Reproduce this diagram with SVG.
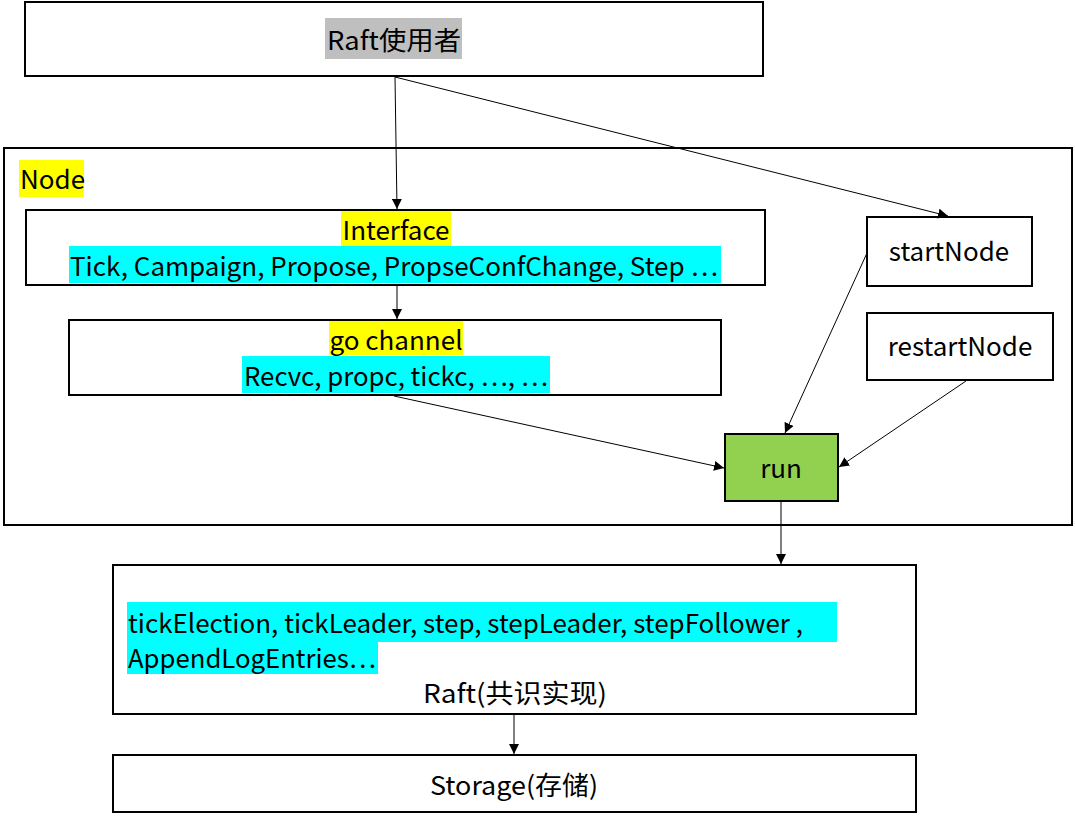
<svg xmlns="http://www.w3.org/2000/svg" width="1075" height="820" viewBox="0 0 1075 820">
<defs>
<marker id="ah" viewBox="0 0 10 10" refX="10" refY="5" markerWidth="10" markerHeight="10" markerUnits="userSpaceOnUse" orient="auto">
<path d="M0,0 L10,5 L0,10 Z" fill="#000"/>
</marker>
</defs>
<style>
.box{fill:#fff;stroke:#000;stroke-width:2}
.run{fill:#92d050;stroke:#000;stroke-width:2}
.t{font-family:"Noto Sans CJK SC","Noto Sans",sans-serif;font-size:26px;fill:#000}
.c{text-anchor:middle}
.hy{fill:#ffff00}
.hc{fill:#00ffff}
.hg{fill:#bfbfbf}
.ln{stroke:#000;stroke-width:1;fill:none;marker-end:url(#ah)}
</style>
<rect width="1075" height="820" fill="#fff"/>
<g id="user">
<rect class="box" x="25" y="2" width="738" height="74"/>
<rect class="hg" x="325" y="18" width="137" height="41"/>
<text class="t c" x="394" y="50" textLength="134" lengthAdjust="spacingAndGlyphs">Raft使用者</text>
</g>
<g id="node">
<rect class="box" x="4" y="148" width="1068" height="377"/>
<rect class="hy" x="19" y="160" width="65" height="37"/>
<text class="t" x="20" y="189">Node</text>
</g>
<g id="interface">
<rect class="box" x="26" y="210" width="739" height="75"/>
<rect class="hy" x="341" y="211" width="110" height="35"/>
<text class="t c" x="396" y="240">Interface</text>
<rect class="hc" x="69" y="246" width="652" height="37"/>
<text class="t" x="70" y="276" textLength="648" lengthAdjust="spacingAndGlyphs">Tick, Campaign, Propose, PropseConfChange, Step …</text>
</g>
<g id="gochannel">
<rect class="box" x="69" y="320" width="652" height="75"/>
<rect class="hy" x="329" y="321" width="134" height="34"/>
<text class="t c" x="396" y="350">go channel</text>
<rect class="hc" x="242" y="356" width="308" height="37"/>
<text class="t c" x="396" y="386" textLength="304" lengthAdjust="spacingAndGlyphs">Recvc, propc, tickc, …, …</text>
</g>
<g id="startNode">
<rect class="box" x="867" y="217" width="165" height="69"/>
<text class="t c" x="949" y="261">startNode</text>
</g>
<g id="restartNode">
<rect class="box" x="867" y="313" width="186" height="67"/>
<text class="t c" x="960" y="356">restartNode</text>
</g>
<g id="run">
<rect class="run" x="725" y="434" width="113" height="67"/>
<text class="t c" x="781" y="478">run</text>
</g>
<g id="raft">
<rect class="box" x="113" y="565" width="803" height="149"/>
<rect class="hc" x="127" y="602" width="710" height="40"/>
<rect class="hc" x="127" y="642" width="251" height="32"/>
<text class="t" x="128" y="633" textLength="675" lengthAdjust="spacingAndGlyphs">tickElection, tickLeader, step, stepLeader, stepFollower ,</text>
<text class="t" x="128" y="668" textLength="248" lengthAdjust="spacingAndGlyphs">AppendLogEntries…</text>
<text class="t c" x="515" y="703" textLength="184" lengthAdjust="spacingAndGlyphs">Raft(共识实现)</text>
</g>
<g id="storage">
<rect class="box" x="113" y="755" width="803" height="57"/>
<text class="t c" x="514" y="795" textLength="168" lengthAdjust="spacingAndGlyphs">Storage(存储)</text>
</g>
<g id="connectors">
<line class="ln" x1="395" y1="77" x2="397" y2="209"/>
<line class="ln" x1="395" y1="77" x2="948" y2="216"/>
<line class="ln" x1="397" y1="286" x2="397" y2="319"/>
<line class="ln" x1="394" y1="396" x2="724" y2="468"/>
<line class="ln" x1="867" y1="253" x2="785" y2="433"/>
<line class="ln" x1="966" y1="381" x2="839" y2="467"/>
<line class="ln" x1="781" y1="502" x2="781" y2="564"/>
<line class="ln" x1="514" y1="715" x2="514" y2="754"/>
</g>
</svg>
